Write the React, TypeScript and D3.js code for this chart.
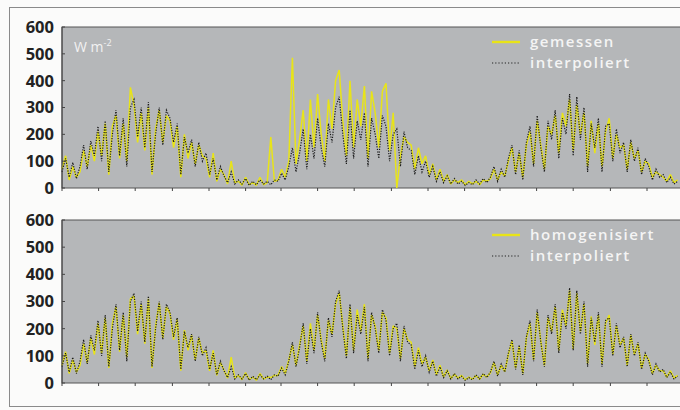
import React from 'react';
import * as d3 from 'd3';

// daily-ish radiation series, sampled every 6 days from 1 March
const startDate = new Date(2000, 2, 1);
const endDate = new Date(2002, 11, 26);
const stepDays = 6;

const interpoliert = [
  60, 110, 40, 95, 35, 80, 160, 70, 175, 120,
  230, 100, 250, 60, 200, 290, 120, 260, 80, 300,
  330, 190, 300, 150, 320, 60, 200, 300, 160, 290,
  260, 170, 240, 50, 190, 130, 180, 80, 170, 100,
  130, 50, 110, 30, 80, 45, 20, 60, 15, 30,
  15, 35, 10, 25, 12, 30, 15, 25, 12, 30,
  25, 55, 30, 80, 150, 60, 130, 220, 70, 200,
  110, 260, 150, 80, 240, 170, 300, 340, 200, 90,
  290, 110, 250, 180, 280, 80, 260, 200, 110, 270,
  230, 100, 200, 220, 80, 210, 150, 140, 50, 120,
  60, 100, 40, 80, 25, 60, 20, 45, 15, 35,
  15, 25, 10, 20, 12, 30, 15, 35, 20, 40,
  80, 25, 70, 40, 110, 160, 50, 140, 30, 170,
  230, 80, 270, 150, 60, 250, 180, 290, 110, 260,
  200, 350, 120, 340, 180, 300, 60, 240, 150, 260,
  60, 230, 240, 100, 220, 130, 170, 60, 180, 100,
  150, 50, 110, 80, 30, 70, 40, 50, 20, 40,
  15, 25,
];

const gemessen = [
  70, 120, 30, 80, 40, 60, 140, 80, 160, 100,
  210, 120, 240, 50, 230, 270, 110, 240, 100, 375,
  310, 170, 280, 140, 300, 50, 220, 290, 170, 270,
  250, 150, 230, 40, 200, 110, 170, 90, 160, 120,
  110, 40, 130, 25, 70, 50, 15, 100, 20, 25,
  10, 40, 12, 20, 10, 40, 12, 20, 190, 25,
  30, 70, 40, 100, 485, 90, 180, 290, 100, 330,
  150, 350, 200, 100, 330, 220, 400, 440, 250, 120,
  400, 150, 330, 230, 380, 110, 360, 280, 150, 360,
  390, 140, 280, 0, 120, 190, 170, 160, 70, 150,
  90, 120, 50, 90, 30, 70, 25, 50, 15, 30,
  20, 30, 12, 25, 15, 25, 12, 30, 25, 35,
  70, 30, 60, 45, 100, 150, 60, 130, 40, 160,
  210, 90, 250, 160, 70, 230, 200, 270, 130, 280,
  230, 330, 140, 310, 200, 280, 80, 250, 130, 240,
  80, 210, 260, 110, 200, 150, 160, 70, 170, 110,
  140, 60, 100, 90, 40, 60, 50, 40, 25, 50,
  20, 30,
];

const homogenisiert = [
  65, 115, 35, 85, 40, 65, 145, 75, 165, 105,
  220, 110, 240, 55, 220, 280, 115, 250, 95, 310,
  320, 180, 290, 145, 310, 55, 210, 295, 165, 280,
  255, 160, 235, 45, 195, 120, 175, 85, 165, 110,
  120, 45, 120, 28, 75, 48, 18, 95, 18, 28,
  12, 38, 12, 22, 10, 35, 14, 22, 20, 28,
  28, 60, 35, 85, 140, 65, 140, 210, 80, 220,
  120, 250, 160, 90, 230, 180, 290, 330, 210, 100,
  280, 120, 270, 190, 290, 90, 250, 210, 120, 260,
  240, 110, 210, 200, 90, 200, 160, 150, 60, 130,
  70, 95, 45, 85, 30, 65, 22, 48, 16, 32,
  18, 28, 12, 22, 14, 28, 14, 32, 22, 38,
  75, 30, 65, 42, 105, 155, 55, 135, 35, 165,
  220, 85, 260, 155, 65, 240, 190, 280, 120, 270,
  210, 340, 125, 330, 190, 290, 70, 245, 140, 250,
  70, 220, 250, 105, 210, 140, 165, 65, 175, 105,
  145, 55, 105, 85, 35, 65, 45, 45, 22, 45,
  18, 28,
];

const yTicks = [0, 100, 200, 300, 400, 500, 600];

const YELLOW = '#e8e418';
const PLOT_BG = '#b5b7b9';
const FONT = '"Open Sans", "DejaVu Sans", sans-serif';

const dates = interpoliert.map((_, i) => d3.timeDay.offset(startDate, i * stepDays));

const x = d3.scaleTime().domain([startDate, endDate]).range([62, 680]);
const xTicks = x.ticks(d3.timeMonth.every(2));

function Panel({ top, bottom, yellow, yellowLabel, showUnit }) {
  const y = d3.scaleLinear().domain([0, 600]).range([bottom, top]);
  const line = d3.line<number>()
    .x((_, i) => x(dates[i]))
    .y(d => y(d));

  const legX = 492;
  const legY = top + 15;

  return (
    <g>
      <rect x={62} y={top} width={630} height={bottom - top} fill={PLOT_BG} stroke="#555" strokeWidth={1} />
      <path d={line(yellow) || ''} fill="none" stroke={YELLOW} strokeWidth={1.5} strokeLinejoin="bevel" />
      <path d={line(interpoliert) || ''} fill="none" stroke="#1a1a1a" strokeWidth={1.2} strokeDasharray="1.2,1.4" />
      {yTicks.map(t => (
        <g key={t}>
          <line x1={62} x2={65} y1={y(t)} y2={y(t)} stroke="#444" />
          <text x={54} y={y(t)} dy="0.36em" textAnchor="end" fontFamily={FONT} fontWeight="bold" fontSize={16.5} fill="#222">
            {t}
          </text>
        </g>
      ))}
      {xTicks.map((t, i) => (
        <line key={i} x1={x(t)} x2={x(t)} y1={bottom} y2={bottom + 3} stroke="#444" />
      ))}
      <line x1={62} x2={62} y1={top} y2={bottom} stroke="#444" />
      {showUnit && (
        <text x={74} y={top + 25} fontFamily={FONT} fontSize={14} fill="#f2f2f2">
          W m<tspan dy={-6} fontSize={9}>-2</tspan>
        </text>
      )}
      <line x1={legX} x2={legX + 28} y1={legY} y2={legY} stroke={YELLOW} strokeWidth={2.4} />
      <text x={530} y={legY + 5} fontFamily={FONT} fontSize={15} fontWeight={600} letterSpacing={1.5} fill="#f4f4f4">
        {yellowLabel}
      </text>
      <line x1={legX} x2={legX + 28} y1={legY + 21} y2={legY + 21} stroke="#222" strokeWidth={1.2} strokeDasharray="1.2,2" />
      <text x={530} y={legY + 26} fontFamily={FONT} fontSize={15} fontWeight={600} letterSpacing={1.5} fill="#f4f4f4">
        interpoliert
      </text>
    </g>
  );
}

export default function App() {
  return (
    <svg width={680} height={410} style={{ position: 'absolute', left: 0, top: 0, background: '#fbfbfa' }}>
      <rect x={9.5} y={7.5} width={690} height={399} fill="none" stroke="#8a8a8a" strokeWidth={1} />
      <Panel top={27} bottom={188} yellow={gemessen} yellowLabel="gemessen" showUnit={true} />
      <Panel top={220} bottom={383} yellow={homogenisiert} yellowLabel="homogenisiert" showUnit={false} />
    </svg>
  );
}
